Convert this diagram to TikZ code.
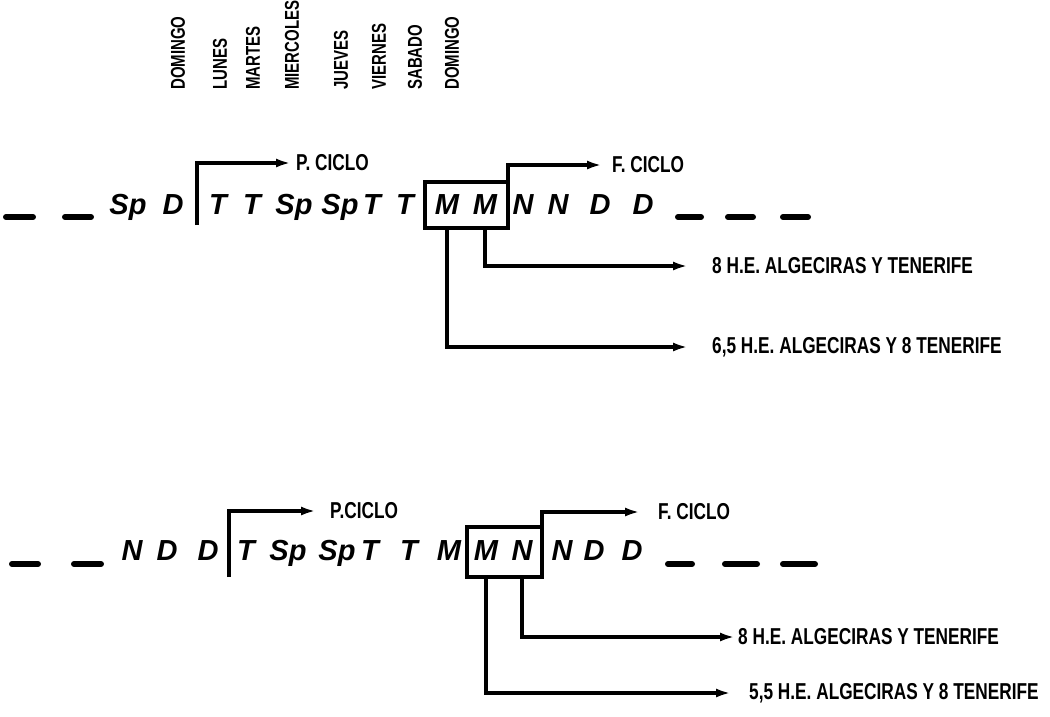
\documentclass[tikz,border=0pt]{standalone}
\usepackage{fontspec}
\setmainfont{Liberation Sans}
\newfontfamily\condfont[FakeStretch=0.75]{Liberation Sans}
\usetikzlibrary{arrows.meta,positioning}

\tikzset{
  turno/.style={anchor=base,inner sep=0pt,font=\fontsize{29}{30}\selectfont\bfseries\itshape},
  rotulo/.style={anchor=west,inner sep=0pt,font=\condfont\fontsize{23}{24}\selectfont\bfseries},
  dia/.style={rotate=90,anchor=west,inner sep=0pt,font=\condfont\fontsize{20}{21}\selectfont\bfseries},
  caja/.style={draw,line width=3.4pt,inner sep=0pt,outer sep=0pt},
  flecha/.style={line width=3.4pt,-{Latex[length=15pt,width=9pt]}},
  raya/.style={line width=6pt,line cap=round},
}

\begin{document}
\begin{tikzpicture}[x=1pt,y=-1pt]
\useasboundingbox (0,0) rectangle (1050,716);

% Dias de la semana
\foreach \d/\x [count=\i] in {DOMINGO/178,LUNES/220,MARTES/253,MIERCOLES/292,JUEVES/341,VIERNES/379,SABADO/415,DOMINGO/452}
  \node[dia] (d\i) at (\x,90) {\d};

% Primera secuencia
\foreach \t/\x [count=\i] in {Sp/128,D/173,T/218,T/252,Sp/294,Sp/340,T/372,T/405,N/523,N/558,D/600,D/643}
  \node[turno] (a\i) at (\x,214) {\t};
\node[turno] (mA1) at (447,214) {M};
\node[turno] (mA2) at (485,214) {M};
\node[caja,minimum width=83pt,minimum height=46pt] (cajaA) at (466.5,205) {};
\foreach \a/\b in {6/33,65/91,678/701,728/753,783/808}
  \draw[raya] (\a,217) -- (\b,217);
\coordinate (iniA) at (197,225);
\node[rotulo] (pA) at (296,163) {P. CICLO};
\node[rotulo] (fA) at (612,165) {F. CICLO};
\node[rotulo] (hA1) at (712,266) {8 H.E. ALGECIRAS Y TENERIFE};
\node[rotulo] (hA2) at (712,347) {6,5 H.E. ALGECIRAS Y 8 TENERIFE};
\draw[flecha,shorten >=5pt] (iniA) |- (pA.west);
\draw[flecha,shorten >=10pt] (cajaA.north east) |- (fA.west);
\draw[flecha,shorten >=24pt] (cajaA.south -| mA2) |- (hA1.west);
\draw[flecha,shorten >=24pt] (cajaA.south -| mA1) |- (hA2.west);

% Segunda secuencia
\foreach \t/\x [count=\i] in {N/132,D/167,D/208,T/246,Sp/288,Sp/337,T/370,T/409,M/449,N/562,D/594,D/632}
  \node[turno] (b\i) at (\x,560) {\t};
\node[turno] (mB1) at (486,560) {M};
\node[turno] (nB2) at (522,560) {N};
\node[caja,minimum width=75pt,minimum height=50pt] (cajaB) at (504.5,552) {};
\foreach \a/\b in {12/38,74/101,668/692,725/757,783/815}
  \draw[raya] (\a,564) -- (\b,564);
\coordinate (iniB) at (229,577);
\node[rotulo] (pB) at (330,511) {P.CICLO};
\node[rotulo] (fB) at (658,512) {F. CICLO};
\node[rotulo] (hB1) at (738,637) {8 H.E. ALGECIRAS Y TENERIFE};
\node[rotulo] (hB2) at (749,693) {5,5 H.E. ALGECIRAS Y 8 TENERIFE};
\draw[flecha,shorten >=14pt] (iniB) |- (pB.west);
\draw[flecha,shorten >=18pt] (cajaB.north east) |- (fB.west);
\draw[flecha,shorten >=3pt] (cajaB.south -| nB2) |- (hB1.west);
\draw[flecha,shorten >=18pt] (cajaB.south -| mB1) |- (hB2.west);
\end{tikzpicture}
\end{document}
